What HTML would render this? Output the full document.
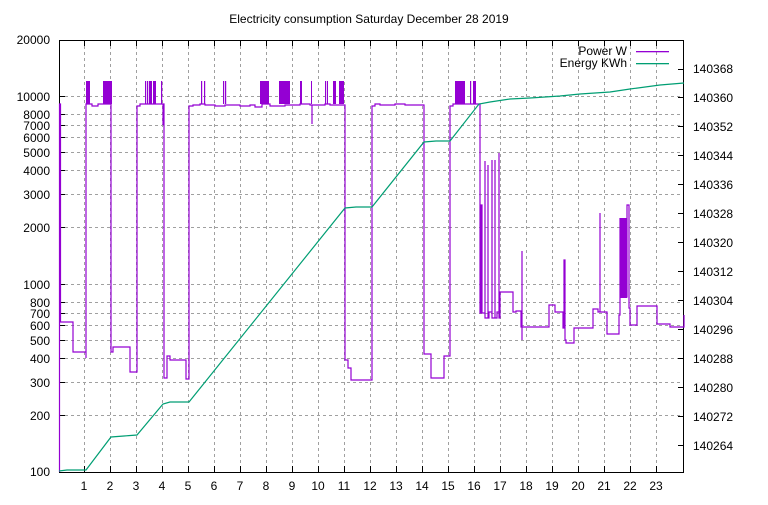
<!DOCTYPE html>
<html><head><meta charset="utf-8"><style>
body{margin:0;background:#fff}
text{font-family:"Liberation Sans",sans-serif;font-size:12px;fill:#000}
</style></head><body>
<svg width="768" height="500" xmlns="http://www.w3.org/2000/svg">
<rect width="768" height="500" fill="#fff"/>
<text x="369" y="23" text-anchor="middle">Electricity consumption Saturday December 28 2019</text>
<g stroke="#a0a0a0" stroke-dasharray="3,3" stroke-width="1">
<path d="M84.5 40V472M110.5 40V472M136.5 40V472M162.5 40V472M188.5 40V472M214.5 40V472M240.5 40V472M266.5 40V472M292.5 40V472M318.5 40V472M344.5 40V472M370.5 40V472M396.5 40V472M422.5 40V472M448.5 40V472M474.5 40V472M500.5 40V472M526.5 40V472M552.5 40V472M578.5 40V472M604.5 40V472M630.5 40V472M656.5 40V472"/>
<path d="M59 415.5H684M59 382.5H684M59 358.5H684M59 340.5H684M59 325.5H684M59 313.5H684M59 302.5H684M59 284.5H684M59 227.5H684M59 194.5H684M59 170.5H684M59 152.5H684M59 137.5H684M59 125.5H684M59 114.5H684M59 96.5H684"/>
</g>
<g stroke="#000" stroke-width="1">
<rect x="59.5" y="40.5" width="624" height="432" fill="none"/>
<path d="M84.5 472v-6M110.5 472v-6M136.5 472v-6M162.5 472v-6M188.5 472v-6M214.5 472v-6M240.5 472v-6M266.5 472v-6M292.5 472v-6M318.5 472v-6M344.5 472v-6M370.5 472v-6M396.5 472v-6M422.5 472v-6M448.5 472v-6M474.5 472v-6M500.5 472v-6M526.5 472v-6M552.5 472v-6M578.5 472v-6M604.5 472v-6M630.5 472v-6M656.5 472v-6"/>
<path d="M84.5 40v6M110.5 40v6M136.5 40v6M162.5 40v6M188.5 40v6M214.5 40v6M240.5 40v6M266.5 40v6M292.5 40v6M318.5 40v6M344.5 40v6M370.5 40v6M396.5 40v6M422.5 40v6M448.5 40v6M474.5 40v6M500.5 40v6M526.5 40v6M552.5 40v6M578.5 40v6M604.5 40v6M630.5 40v6M656.5 40v6"/>
<path d="M59 415.5h6M59 382.5h6M59 358.5h6M59 340.5h6M59 325.5h6M59 313.5h6M59 302.5h6M59 284.5h6M59 227.5h6M59 194.5h6M59 170.5h6M59 152.5h6M59 137.5h6M59 125.5h6M59 114.5h6M59 96.5h6"/>
<path d="M684 445.5h-6M684 416.5h-6M684 387.5h-6M684 358.5h-6M684 329.5h-6M684 300.5h-6M684 271.5h-6M684 242.5h-6M684 213.5h-6M684 184.5h-6M684 155.5h-6M684 126.5h-6M684 97.5h-6M684 69.5h-6"/>
</g>
<g text-anchor="end">
<text x="50" y="476">100</text><text x="50" y="420">200</text><text x="50" y="387">300</text><text x="50" y="363">400</text><text x="50" y="345">500</text><text x="50" y="330">600</text><text x="50" y="318">700</text><text x="50" y="307">800</text><text x="50" y="289">1000</text><text x="50" y="232">2000</text><text x="50" y="199">3000</text><text x="50" y="175">4000</text><text x="50" y="157">5000</text><text x="50" y="142">6000</text><text x="50" y="130">7000</text><text x="50" y="119">8000</text><text x="50" y="101">10000</text><text x="50" y="44">20000</text>
</g>
<g>
<text x="693" y="450">140264</text><text x="693" y="421">140272</text><text x="693" y="392">140280</text><text x="693" y="363">140288</text><text x="693" y="334">140296</text><text x="693" y="305">140304</text><text x="693" y="276">140312</text><text x="693" y="247">140320</text><text x="693" y="218">140328</text><text x="693" y="189">140336</text><text x="693" y="160">140344</text><text x="693" y="131">140352</text><text x="693" y="102">140360</text><text x="693" y="73">140368</text>
</g>
<g text-anchor="middle">
<text x="84" y="490">1</text><text x="110" y="490">2</text><text x="136" y="490">3</text><text x="162" y="490">4</text><text x="188" y="490">5</text><text x="214" y="490">6</text><text x="240" y="490">7</text><text x="266" y="490">8</text><text x="292" y="490">9</text><text x="318" y="490">10</text><text x="344" y="490">11</text><text x="370" y="490">12</text><text x="396" y="490">13</text><text x="422" y="490">14</text><text x="448" y="490">15</text><text x="474" y="490">16</text><text x="500" y="490">17</text><text x="526" y="490">18</text><text x="552" y="490">19</text><text x="578" y="490">20</text><text x="604" y="490">21</text><text x="630" y="490">22</text><text x="656" y="490">23</text>
</g>
<text x="627" y="55" text-anchor="end">Power W</text>
<text x="627" y="67" text-anchor="end">Energy KWh</text>
<rect x="636" y="51" width="33" height="1.3" fill="#9400d3"/>
<rect x="636" y="63" width="33" height="1.3" fill="#009e73"/>
<g fill="#9400d3">
<rect x="86" y="81" width="4" height="23"/><rect x="103" y="81" width="9" height="23"/>
<rect x="145" y="81" width="1.2" height="23"/><rect x="147" y="81" width="1.2" height="23"/><rect x="149" y="81" width="3" height="23"/><rect x="153" y="81" width="3" height="23"/><rect x="161" y="81" width="1.2" height="23"/>
<rect x="201" y="81" width="1.2" height="23"/><rect x="204" y="81" width="1.2" height="23"/><rect x="223" y="81" width="1.2" height="23"/><rect x="225" y="81" width="1.2" height="23"/>
<rect x="260" y="81" width="9" height="23"/><rect x="279" y="81" width="11" height="23"/><rect x="300" y="81" width="2" height="23"/><rect x="311" y="81" width="1" height="23"/>
<rect x="325" y="81" width="1.2" height="23"/><rect x="327" y="81" width="1" height="23"/><rect x="333" y="81" width="3" height="23"/><rect x="339" y="81" width="5" height="23"/>
<rect x="455" y="81" width="10" height="23"/><rect x="470" y="81" width="1.2" height="23"/><rect x="473" y="81" width="3" height="23"/>
<rect x="620" y="218" width="7" height="80"/>
</g>
<path fill="none" stroke="#9400d3" stroke-width="1.2" d="M59.5 472V104H60.5V322H73V352H86V358V104H92V106H98V104H111V352H113V347H130V372H137V106H140V104H163V125V104H164V378H167V356H170V360H178V360H186V379H189V106H193V105H200V104H205V105H215V106H225V105H240V106H250V105H255V107H262V104H270V106H285V105H300V104H310V105H312V124V105H325V104H330V105H345V360H348V368H351V380H372V106H375V104H380V105H395V104H405V105H424V354H431V378H444V356H450V106H453V104H478V104H480V313H481V205H482V313H485V313V161V318H488V165V318H489V312H492V160V318H495V160V318H497V312H499V153V318H500V292H513V312H516V311H521V327H522V251V340V327H549V305H555V312H563V328H564V290V260H565V340H566V343H574V328H593V309H598V312H600V213V312H607V334H619V315H620V218V297H627V218V205H629V308H630V325H637V306H647V306H657V324H670V327H684V315"/>
<polyline fill="none" stroke="#009e73" stroke-width="1.2" points="59,471 67,470 86,470 111,437 124,436 137,435 163,404 170,402 189,402 345,208 356,207 372,207 424,142 436,141 450,141 479,104 490,102 510,99 530,98 560,96 580,94 610,92 630,89 660,85 684,83"/>
</svg>
</body></html>
